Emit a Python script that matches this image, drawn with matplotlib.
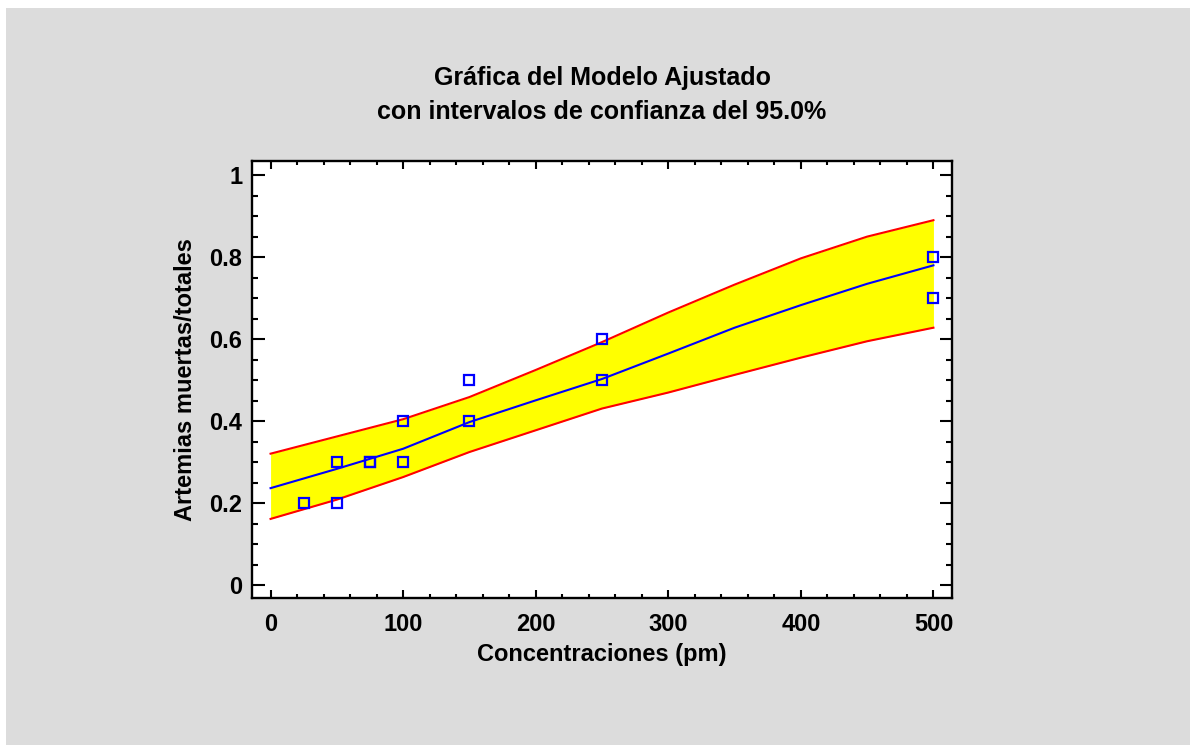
import matplotlib.pyplot as plt
from matplotlib.patches import Rectangle
from matplotlib.ticker import MultipleLocator

plt.rcParams['font.family'] = ['Liberation Sans', 'DejaVu Sans']
plt.rcParams['font.weight'] = 'bold'

# observed data
conc = [25, 50, 50, 75, 75, 100, 100, 150, 150, 250, 250, 500, 500]
ratio = [0.2, 0.3, 0.2, 0.3, 0.3, 0.4, 0.3, 0.5, 0.4, 0.6, 0.5, 0.8, 0.7]

# fitted model and 95% confidence limits
x_fit = [0, 50, 100, 150, 200, 250, 300, 350, 400, 450, 500]
y_fit = [0.237, 0.284, 0.333, 0.398, 0.451, 0.503, 0.565, 0.628, 0.683, 0.735, 0.780]
y_upper = [0.321, 0.363, 0.405, 0.459, 0.525, 0.593, 0.665, 0.733, 0.797, 0.850, 0.890]
y_lower = [0.162, 0.209, 0.264, 0.325, 0.378, 0.431, 0.470, 0.513, 0.555, 0.595, 0.628]

W, H = 1190, 745
fig = plt.figure(figsize=(W / 100, H / 100), dpi=100, facecolor='white')
# gray panel behind everything
fig.add_artist(Rectangle((6 / W, 0), 1, (H - 8) / H, transform=fig.transFigure,
                         facecolor='#dcdcdc', edgecolor='none', zorder=-10))

ax = fig.add_axes([252 / W, 1 - 597.7 / H, 700 / W, 437 / H])
ax.set_zorder(5)
ax.set_facecolor('white')

ax.fill_between(x_fit, y_lower, y_upper, color='#ffff00', linewidth=0, zorder=1)
ax.plot(x_fit, y_upper, color='#ff0000', linewidth=1.5, zorder=2)
ax.plot(x_fit, y_lower, color='#ff0000', linewidth=1.5, zorder=2)
ax.plot(x_fit, y_fit, color='#0000ff', linewidth=1.5, zorder=3)
ax.plot(conc, ratio, linestyle='none', marker='s', markersize=6.5,
        markerfacecolor='none', markeredgecolor='#0000ff', markeredgewidth=1.6, zorder=4)

ax.set_xlim(-14, 514)
ax.set_ylim(-0.03, 1.035)
ax.xaxis.set_major_locator(MultipleLocator(100))
ax.xaxis.set_minor_locator(MultipleLocator(20))
ax.yaxis.set_minor_locator(MultipleLocator(0.05))
ax.set_yticks([0, 0.2, 0.4, 0.6, 0.8, 1.0])
ax.set_yticklabels(['0', '0.2', '0.4', '0.6', '0.8', '1'])

for s in ax.spines.values():
    s.set_linewidth(1.7)
ax.tick_params(axis='both', which='both', direction='in', top=True, right=True,
               width=1.5, labelsize=17, color='black')
ax.tick_params(axis='x', which='major', length=6, pad=11)
ax.tick_params(axis='x', which='minor', length=3)
ax.tick_params(axis='y', which='major', length=9, pad=7)
ax.tick_params(axis='y', which='minor', length=4.5)

ax.set_xlabel('Concentraciones (pm)', fontsize=17, fontweight='bold', labelpad=5)
ax.set_ylabel('Artemias muertas/totales', fontsize=17, fontweight='bold', labelpad=9)

fig.text(602 / W, 1 - 78 / H, 'Gráfica del Modelo Ajustado', ha='center', va='center',
         fontsize=18, fontweight='bold')
fig.text(602 / W, 1 - 112 / H, 'con intervalos de confianza del 95.0%', ha='center', va='center',
         fontsize=18, fontweight='bold')

fig.savefig('out.png', dpi=100, facecolor=fig.get_facecolor())
